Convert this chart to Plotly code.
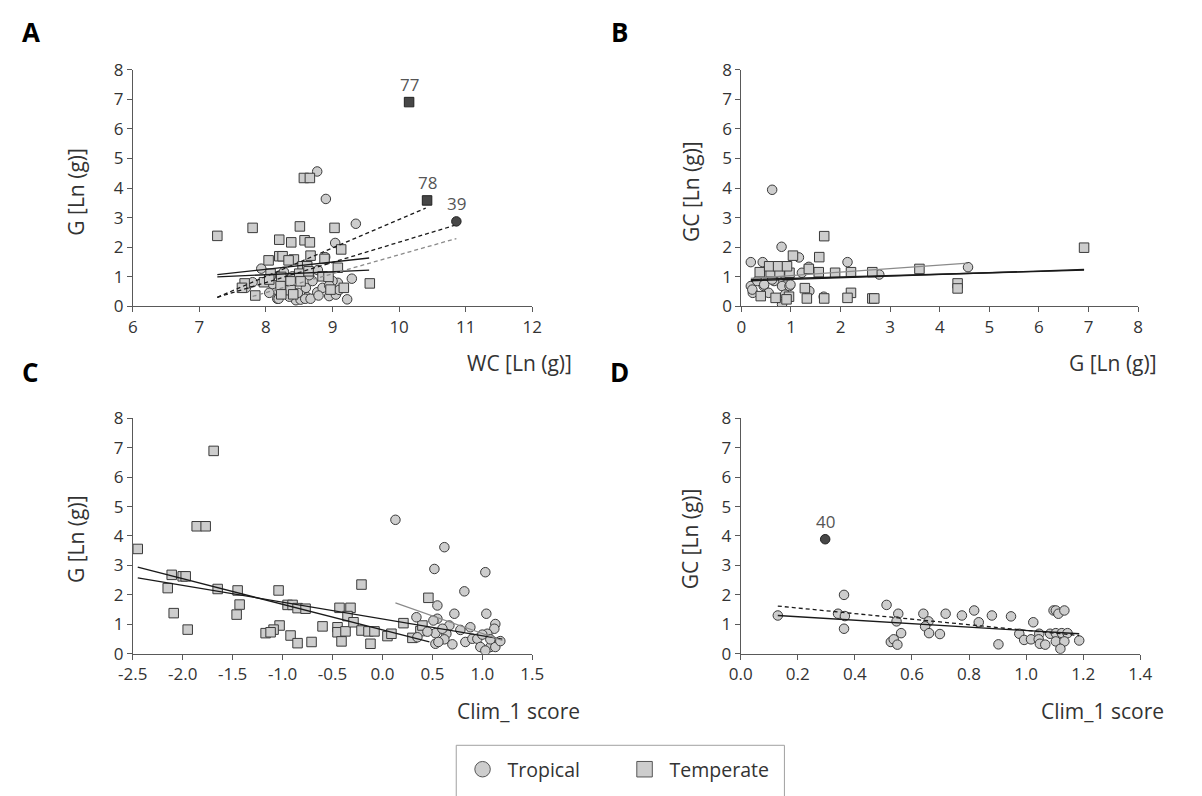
import plotly.graph_objects as go

# ---------------- data ----------------
# Panel A: WC vs G
A_trop_wc = [8.77, 8.90, 9.35, 9.04, 8.89, 7.93, 8.27, 8.78, 8.55, 9.29, 9.08, 7.70, 7.80, 8.17, 8.45, 8.52, 8.62, 9.22, 8.95, 9.05,
             8.35, 8.77, 8.15, 8.60, 8.85, 9.00, 8.40, 8.70, 8.19, 8.59, 8.67, 8.79, 8.10, 8.30, 8.48, 8.95, 9.10, 8.65, 8.42, 8.05]
A_trop_g = [4.56, 3.63, 2.79, 2.14, 1.66, 1.27, 1.16, 1.22, 1.13, 0.93, 0.79, 0.62, 0.81, 0.25, 0.20, 0.22, 0.30, 0.23, 0.34, 0.39,
            0.32, 0.47, 0.56, 0.62, 0.62, 0.85, 1.01, 0.85, 0.25, 0.25, 0.25, 0.36, 0.75, 0.60, 0.45, 0.70, 0.55, 1.05, 0.95, 0.45]
A_temp_wc = [7.27, 7.80, 8.51, 9.03, 8.57, 8.66, 8.20, 8.38, 8.58, 8.66, 9.13, 8.04, 8.20, 8.25, 8.42, 8.34, 8.67, 8.88, 8.55, 8.62,
             9.08, 8.07, 8.23, 8.50, 8.64, 8.85, 8.94, 7.68, 7.64, 7.84, 7.97, 8.05, 8.22, 8.37, 8.52, 8.37, 8.23, 8.41, 8.97, 9.17, 9.56]
A_temp_g = [2.38, 2.65, 2.70, 2.65, 4.34, 4.34, 2.25, 2.16, 2.23, 2.16, 1.92, 1.55, 1.69, 1.69, 1.58, 1.55, 1.71, 1.60, 1.35, 1.35,
            1.30, 1.10, 0.99, 1.10, 1.18, 1.01, 0.99, 0.77, 0.62, 0.36, 0.81, 0.90, 0.68, 0.84, 0.84, 0.54, 0.40, 0.40, 0.56, 0.62, 0.77]
A_hi_temp_wc = [10.15, 10.42]
A_hi_temp_g = [6.91, 3.58]
A_hi_temp_lab = ["77", "78"]
A_hi_trop_wc = [10.86]
A_hi_trop_g = [2.87]
A_hi_trop_lab = ["39"]
A_solid1_x, A_solid1_y = [7.27, 9.55], [1.07, 1.63]
A_solid2_x, A_solid2_y = [7.27, 9.55], [0.99, 1.22]
A_dash1_x, A_dash1_y = [7.27, 10.40], [0.30, 3.32]
A_dash2_x, A_dash2_y = [7.27, 10.84], [0.30, 2.74]
A_gdash_x, A_gdash_y = [7.80, 10.86], [0.33, 2.29]

# Panel B: G vs GC
B_trop_g = [0.62, 0.81, 0.19, 0.43, 2.14, 4.57, 2.78, 1.16, 1.36, 1.22, 0.66, 0.19, 0.23, 0.45, 0.66, 0.82, 0.97, 0.79, 0.88, 1.37,
            1.66, 0.22, 0.55, 0.32, 0.89, 0.82, 0.46, 0.99, 0.62]
B_trop_gc = [3.94, 2.01, 1.49, 1.49, 1.49, 1.32, 1.07, 1.65, 1.33, 1.13, 1.07, 0.68, 0.45, 0.68, 0.85, 0.68, 0.68, 0.23, 0.39, 0.51,
             0.32, 0.56, 0.45, 0.85, 1.01, 0.06, 0.73, 0.73, 0.90]
B_temp_g = [1.67, 1.57, 1.04, 0.37, 0.59, 0.77, 0.97, 0.56, 0.74, 0.92, 1.36, 1.56, 1.89, 2.21, 2.64, 3.59, 4.36, 4.36, 1.28, 2.21,
            0.39, 0.69, 0.96, 1.32, 1.67, 2.14, 2.64, 2.68, 0.91, 6.91]
B_temp_gc = [2.37, 1.66, 1.71, 1.15, 1.15, 1.15, 1.13, 1.35, 1.35, 1.35, 1.26, 1.15, 1.13, 1.15, 1.15, 1.26, 0.77, 0.60, 0.61, 0.45,
             0.34, 0.28, 0.32, 0.26, 0.26, 0.28, 0.26, 0.26, 0.23, 1.98]
B_line1_x, B_line1_y = [0.19, 6.91], [0.86, 1.24]
B_line2_x, B_line2_y = [0.19, 6.91], [0.90, 1.22]
B_gray_x, B_gray_y = [0.19, 4.57], [0.94, 1.46]

# Panel C: Clim_1 score vs G
C_temp_clim = [-2.45, -1.69, -1.86, -1.77, -2.11, -2.00, -1.97, -2.15, -2.09, -1.95, -1.65, -1.45, -1.43, -1.46, -1.04, -1.03,
               -1.09, -1.17, -1.12, -0.95, -0.90, -0.85, -0.77, -0.92, -0.85, -0.71, -0.60, -0.43, -0.32, -0.35, -0.45, -0.45,
               -0.37, -0.41, -0.29, -0.21, -0.21, -0.14, -0.08, -0.12, 0.05, 0.09, 0.21, 0.30, 0.38, 0.40, 0.46]
C_temp_g = [3.56, 6.89, 4.33, 4.33, 2.68, 2.63, 2.63, 2.23, 1.38, 0.82, 2.20, 2.15, 1.67, 1.33, 2.15, 0.96, 0.82, 0.70, 0.73,
            1.66, 1.66, 1.55, 1.53, 0.62, 0.36, 0.40, 0.93, 1.56, 1.56, 1.28, 0.90, 0.73, 0.76, 0.42, 1.07, 2.35, 0.79, 0.76,
            0.76, 0.34, 0.60, 0.68, 1.04, 0.54, 0.77, 0.96, 1.90]
C_trop_clim = [0.13, 0.62, 0.52, 1.03, 0.82, 0.55, 0.72, 1.04, 0.34, 0.55, 0.51, 0.67, 0.88, 1.13, 1.12, 0.78, 0.53, 0.64, 1.05,
               0.62, 0.83, 0.90, 0.95, 0.70, 0.53, 0.56, 0.98, 1.08, 1.13, 1.18, 1.03, 1.08, 0.35, 0.60, 0.45, 1.00]
C_trop_g = [4.55, 3.62, 2.88, 2.77, 2.12, 1.64, 1.36, 1.36, 1.24, 1.19, 1.13, 0.96, 0.90, 1.01, 0.85, 0.81, 0.70, 0.68, 0.68,
            0.49, 0.40, 0.51, 0.51, 0.32, 0.34, 0.40, 0.23, 0.23, 0.23, 0.43, 0.11, 0.49, 0.56, 0.85, 0.75, 0.65]
C_line1_x, C_line1_y = [-2.45, 0.47], [2.94, 0.40]
C_line2_x, C_line2_y = [-2.45, 1.20], [2.58, 0.50]
C_gray_x, C_gray_y = [0.13, 1.20], [1.73, 0.45]

# Panel D: Clim_1 score vs GC (tropical)
D_trop_clim = [0.130, 0.341, 0.362, 0.365, 0.362, 0.511, 0.552, 0.546, 0.562, 0.526, 0.536, 0.549, 0.640, 0.658, 0.646,
               0.660, 0.698, 0.718, 0.775, 0.818, 0.834, 0.880, 0.903, 0.947, 0.976, 0.993, 1.017, 1.025, 1.046, 1.044,
               1.048, 1.067, 1.084, 1.096, 1.104, 1.113, 1.134, 1.104, 1.125, 1.145, 1.104, 1.134, 1.120, 1.186]
D_trop_gc = [1.30, 1.36, 2.00, 1.28, 0.85, 1.66, 1.36, 1.10, 0.70, 0.40, 0.49, 0.31, 1.36, 1.10, 0.93, 0.70, 0.67, 1.36,
             1.30, 1.47, 1.07, 1.30, 0.32, 1.27, 0.68, 0.47, 0.49, 1.07, 0.68, 0.49, 0.34, 0.31, 0.68, 1.47, 1.47, 1.36,
             1.47, 0.70, 0.70, 0.70, 0.42, 0.42, 0.17, 0.45]
D_hi_clim = [0.296]
D_hi_gc = [3.89]
D_hi_lab = ["40"]
D_solid_x, D_solid_y = [0.13, 1.186], [1.30, 0.68]
D_dash_x, D_dash_y = [0.13, 1.186], [1.62, 0.62]

# ticks
Y_ticks = [0, 1, 2, 3, 4, 5, 6, 7, 8]
A_xticks = [6, 7, 8, 9, 10, 11, 12]
B_xticks = [0, 1, 2, 3, 4, 5, 6, 7, 8]
C_xticks = [-2.5, -2.0, -1.5, -1.0, -0.5, 0.0, 0.5, 1.0, 1.5]
C_xticklabels = ["-2.5", "-2.0", "-1.5", "-1.0", "-0.5", "0.0", "0.5", "1.0", "1.5"]
D_xticks = [0.0, 0.2, 0.4, 0.6, 0.8, 1.0, 1.2, 1.4]
D_xticklabels = ["0.0", "0.2", "0.4", "0.6", "0.8", "1.0", "1.2", "1.4"]

# ---------------- layout helpers ----------------
W, H = 1202, 796
# observed mapping between figure pixels and the photographed picture
SX, CX = 0.977, 21.0
SY, CY = 0.973, 20.0
FONT = "Open Sans, Segoe UI, DejaVu Sans, sans-serif"
TXT = "#333333"
AXC = "#595959"


def fx(x):
    return (x - CX) / SX


def fy(y):
    return (y - CY) / SY


def px(x):
    return fx(x) / W


def py(y):
    return 1 - fy(y) / H


FILL = "#cdcdcd"
EDGE = "#3a3a3a"
DARK = "#474747"
MS = 9.5

fig = go.Figure()


def pts(x, y, sym, ax, fill=FILL, edge=EDGE):
    fig.add_trace(go.Scatter(x=x, y=y, mode="markers", xaxis=ax[0], yaxis=ax[1], showlegend=False,
                             marker=dict(symbol=sym, size=MS, color=fill, line=dict(color=edge, width=1))))


def line(x, y, ax, color="#1a1a1a", dash="solid", width=1.3):
    fig.add_trace(go.Scatter(x=x, y=y, mode="lines", xaxis=ax[0], yaxis=ax[1], showlegend=False,
                             line=dict(color=color, dash=dash, width=width)))


def labels(x, y, t, ax):
    for xi, yi, ti in zip(x, y, t):
        fig.add_annotation(x=xi, y=yi, xref=ax[0], yref=ax[1], text=ti, showarrow=False, yshift=18,
                           font=dict(family=FONT, size=17, color="#555555"))


DASH = "4px,3px"
# Panel A
axA = ("x", "y")
pts(A_trop_wc, A_trop_g, "circle", axA)
pts(A_temp_wc, A_temp_g, "square", axA)
line(A_solid1_x, A_solid1_y, axA)
line(A_solid2_x, A_solid2_y, axA)
line(A_dash1_x, A_dash1_y, axA, dash=DASH)
line(A_dash2_x, A_dash2_y, axA, dash=DASH)
line(A_gdash_x, A_gdash_y, axA, color="#8a8a8a", dash=DASH)
pts(A_hi_temp_wc, A_hi_temp_g, "square", axA, fill=DARK, edge="#222222")
pts(A_hi_trop_wc, A_hi_trop_g, "circle", axA, fill=DARK, edge="#222222")
labels(A_hi_temp_wc, A_hi_temp_g, A_hi_temp_lab, axA)
labels(A_hi_trop_wc, A_hi_trop_g, A_hi_trop_lab, axA)

# Panel B
axB = ("x2", "y2")
pts(B_trop_g, B_trop_gc, "circle", axB)
pts(B_temp_g, B_temp_gc, "square", axB)
line(B_gray_x, B_gray_y, axB, color="#8a8a8a", width=1.2)
line(B_line1_x, B_line1_y, axB)
line(B_line2_x, B_line2_y, axB)

# Panel C
axC = ("x3", "y3")
pts(C_temp_clim, C_temp_g, "square", axC)
pts(C_trop_clim, C_trop_g, "circle", axC)
line(C_line1_x, C_line1_y, axC)
line(C_line2_x, C_line2_y, axC)
line(C_gray_x, C_gray_y, axC, color="#8a8a8a", width=1.2)

# Panel D
axD = ("x4", "y4")
pts(D_trop_clim, D_trop_gc, "circle", axD)
line(D_solid_x, D_solid_y, axD)
line(D_dash_x, D_dash_y, axD, dash=DASH)
pts(D_hi_clim, D_hi_gc, "circle", axD, fill=DARK, edge="#222222")
labels(D_hi_clim, D_hi_gc, D_hi_lab, axD)

# legend-only traces
fig.add_trace(go.Scatter(x=[None], y=[None], mode="markers", name="Tropical",
                         marker=dict(symbol="circle", size=15.5, color=FILL, line=dict(color="#555555", width=1))))
fig.add_trace(go.Scatter(x=[None], y=[None], mode="markers", name="Temperate",
                         marker=dict(symbol="square", size=15.5, color=FILL, line=dict(color="#555555", width=1))))

tickfont = dict(family=FONT, size=17, color=TXT)


def xax(dom, rng, tv, tt, anchor):
    return dict(domain=dom, range=rng, tickvals=tv, ticktext=tt, anchor=anchor, showline=True, linecolor=AXC,
                linewidth=1, ticks="outside", ticklen=5, tickcolor=AXC, showgrid=False, zeroline=False,
                tickfont=tickfont, fixedrange=True)


def yax(dom, anchor):
    return dict(domain=dom, range=[0, 8], tickvals=Y_ticks, ticktext=[str(v) for v in Y_ticks], anchor=anchor,
                showline=True, linecolor=AXC, linewidth=1, ticks="outside", ticklen=5, tickcolor=AXC,
                showgrid=False, zeroline=False, tickfont=tickfont, fixedrange=True)


left_dom = [px(130.7), px(530)]
right_dom_B = [px(739), px(1135.5)]
right_dom_D = [px(738.3), px(1137.7)]
top_dom = [py(306.7), py(70)]
bot_dom = [py(655), py(419)]

fig.update_layout(
    width=W, height=H, margin=dict(l=0, r=0, t=0, b=0),
    paper_bgcolor="white", plot_bgcolor="white",
    font=dict(family=FONT, color=TXT),
    xaxis=xax(left_dom, [6, 12], A_xticks, [str(v) for v in A_xticks], "y"),
    yaxis=yax(top_dom, "x"),
    xaxis2=xax(right_dom_B, [0, 8], B_xticks, [str(v) for v in B_xticks], "y2"),
    yaxis2=yax(top_dom, "x2"),
    xaxis3=xax(left_dom, [-2.5, 1.5], C_xticks, C_xticklabels, "y3"),
    yaxis3=yax(bot_dom, "x3"),
    xaxis4=xax(right_dom_D, [0, 1.4], D_xticks, D_xticklabels, "y4"),
    yaxis4=yax(bot_dom, "x4"),
    legend=dict(orientation="h", x=(fx(481.7) - 27) / W, y=py(771), xanchor="left", yanchor="middle",
                font=dict(family=FONT, size=19.5, color=TXT), entrywidth=107, entrywidthmode="pixels",
                itemwidth=40,
                bgcolor="rgba(0,0,0,0)", borderwidth=0, itemclick=False, itemdoubleclick=False),
    showlegend=True,
)

# legend frame
fig.add_shape(type="rect", xref="paper", yref="paper", x0=px(454), x1=px(782), y0=-0.05, y1=py(746.7),
              line=dict(color="#a0a0a0", width=1), fillcolor="rgba(0,0,0,0)", layer="below")

title_font = dict(family=FONT, size=21, color=TXT)


def ptext(x, y, t, font, angle=0):
    fig.add_annotation(x=px(x), y=py(y), xref="paper", yref="paper", text=t, showarrow=False, textangle=angle,
                       xanchor="center", yanchor="middle", font=font)


ptext(74, 192, "G [Ln (g)]", title_font, -90)
ptext(688, 192, "GC [Ln (g)]", title_font, -90)
ptext(74, 540, "G [Ln (g)]", title_font, -90)
ptext(688, 540, "GC [Ln (g)]", title_font, -90)
ptext(517, 364, "WC [Ln (g)]", title_font)
ptext(1110, 364, "G [Ln (g)]", title_font)
ptext(516, 712, "Clim_1 score", title_font)
ptext(1100, 712, "Clim_1 score", title_font)

letter_font = dict(family="Open Sans, DejaVu Sans, sans-serif", size=26, color="#000000")
TOP = 1 + 8 / H
for lx, ly, t, xa, ya in [(-3 / W, TOP, "<b>A</b>", "left", "top"),
                          (px(617), TOP, "<b>B</b>", "center", "top"),
                          (-3 / W, py(373), "<b>C</b>", "left", "middle"),
                          (px(617), py(373), "<b>D</b>", "center", "middle")]:
    fig.add_annotation(x=lx, y=ly, xref="paper", yref="paper", text=t, showarrow=False,
                       xanchor=xa, yanchor=ya, font=letter_font)

fig.write_html("out.html")
